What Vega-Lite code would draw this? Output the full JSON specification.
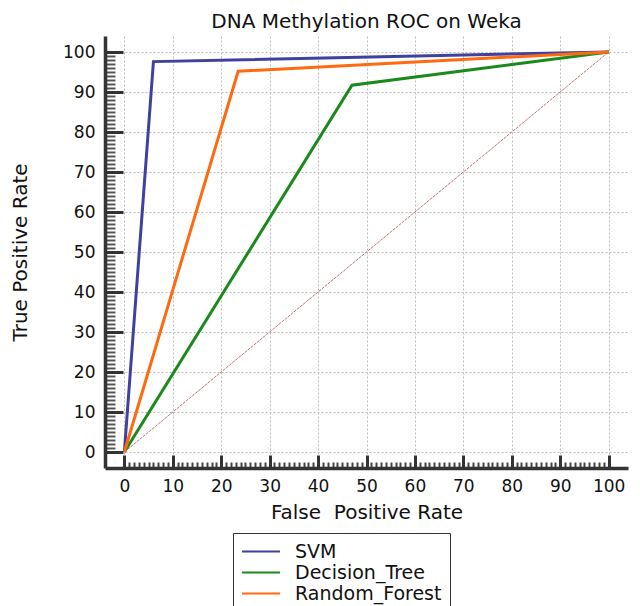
{
  "$schema": "https://vega.github.io/schema/vega-lite/v6.json",
  "width": 523,
  "height": 432,
  "autosize": "none",
  "padding": {"left": 105, "top": 36, "right": 12, "bottom": 138},
  "background": "white",
  "title": {"text": "DNA Methylation ROC on Weka", "font": "DejaVu Sans", "fontSize": 20, "fontWeight": "normal", "color": "#111", "anchor": "middle", "offset": 4},
  "config": {"view": {"stroke": null}, "axis": {"labelFont": "DejaVu Sans", "titleFont": "DejaVu Sans"}},
  "resolve": {"axis": {"x": "independent", "y": "independent"}},
  "layer": [
    {
      "data": {"values": [{"fpr": 0, "tpr": 0}, {"fpr": 100, "tpr": 100}]},
      "mark": {"type": "line", "color": "#c07070", "strokeWidth": 1, "strokeDash": [3, 1]},
      "encoding": {
        "x": {"field": "fpr", "type": "quantitative", "scale": {"domain": [-4, 104], "nice": false, "zero": false},
          "axis": {"orient": "bottom", "values": [0,1,2,3,4,5,6,7,8,9,10,11,12,13,14,15,16,17,18,19,20,21,22,23,24,25,26,27,28,29,30,31,32,33,34,35,36,37,38,39,40,41,42,43,44,45,46,47,48,49,50,51,52,53,54,55,56,57,58,59,60,61,62,63,64,65,66,67,68,69,70,71,72,73,74,75,76,77,78,79,80,81,82,83,84,85,86,87,88,89,90,91,92,93,94,95,96,97,98,99,100], "labels": false, "grid": false, "domain": false, "title": null, "tickSize": -6, "tickColor": "#444", "tickWidth": 2}},
        "y": {"field": "tpr", "type": "quantitative", "scale": {"domain": [-4, 104], "nice": false, "zero": false},
          "axis": {"orient": "left", "values": [0,1,2,3,4,5,6,7,8,9,10,11,12,13,14,15,16,17,18,19,20,21,22,23,24,25,26,27,28,29,30,31,32,33,34,35,36,37,38,39,40,41,42,43,44,45,46,47,48,49,50,51,52,53,54,55,56,57,58,59,60,61,62,63,64,65,66,67,68,69,70,71,72,73,74,75,76,77,78,79,80,81,82,83,84,85,86,87,88,89,90,91,92,93,94,95,96,97,98,99,100], "labels": false, "grid": false, "domain": false, "title": null, "tickSize": -10, "tickColor": "#555", "tickWidth": 2}}
      }
    },
    {
      "data": {"values": [
        {"model": "SVM", "fpr": 0, "tpr": 0},
        {"model": "SVM", "fpr": 6, "tpr": 97.6},
        {"model": "SVM", "fpr": 100, "tpr": 100},
        {"model": "Decision_Tree", "fpr": 0, "tpr": 0},
        {"model": "Decision_Tree", "fpr": 47, "tpr": 91.7},
        {"model": "Decision_Tree", "fpr": 100, "tpr": 100},
        {"model": "Random_Forest", "fpr": 0, "tpr": 0},
        {"model": "Random_Forest", "fpr": 23.5, "tpr": 95.2},
        {"model": "Random_Forest", "fpr": 100, "tpr": 100}
      ]},
      "mark": {"type": "line", "strokeWidth": 3},
      "encoding": {
        "x": {"field": "fpr", "type": "quantitative", "scale": {"domain": [-4, 104], "nice": false, "zero": false},
          "axis": {"orient": "bottom", "values": [0,10,20,30,40,50,60,70,80,90,100], "title": "False \u00a0Positive Rate", "titleFontSize": 20, "titleFontWeight": "normal", "titleColor": "#111", "titlePadding": 8, "labelFontSize": 17, "labelColor": "#111", "labelPadding": 23, "tickSize": -13, "tickColor": "#333", "tickWidth": 3, "domainColor": "#333", "domainWidth": 3.5, "grid": true, "gridColor": "#bbb", "gridDash": [2, 2], "gridWidth": 1}},
        "y": {"field": "tpr", "type": "quantitative", "scale": {"domain": [-4, 104], "nice": false, "zero": false},
          "axis": {"orient": "left", "values": [0,10,20,30,40,50,60,70,80,90,100], "title": "True Positive Rate", "titleFontSize": 20, "titleFontWeight": "normal", "titleColor": "#111", "titlePadding": 32, "labelFontSize": 17, "labelColor": "#111", "labelPadding": 28, "tickSize": -18, "tickColor": "#333", "tickWidth": 3, "domainColor": "#333", "domainWidth": 3.5, "grid": true, "gridColor": "#bbb", "gridDash": [2, 2], "gridWidth": 1}},
        "color": {"field": "model", "type": "nominal", "sort": ["SVM", "Decision_Tree", "Random_Forest"],
          "scale": {"domain": ["SVM", "Decision_Tree", "Random_Forest"], "range": ["#4040a0", "#1a8a1a", "#ff6a10"]},
          "legend": {"orient": "none", "legendX": 128, "legendY": 497, "title": null, "symbolType": "M-1,0H3", "symbolSize": 361, "symbolStrokeWidth": 2, "labelFont": "DejaVu Sans", "labelFontSize": 19, "labelColor": "#111", "strokeColor": "#333", "fillColor": "white", "padding": 8, "rowPadding": 0, "labelOffset": 33}}
      }
    }
  ]
}
